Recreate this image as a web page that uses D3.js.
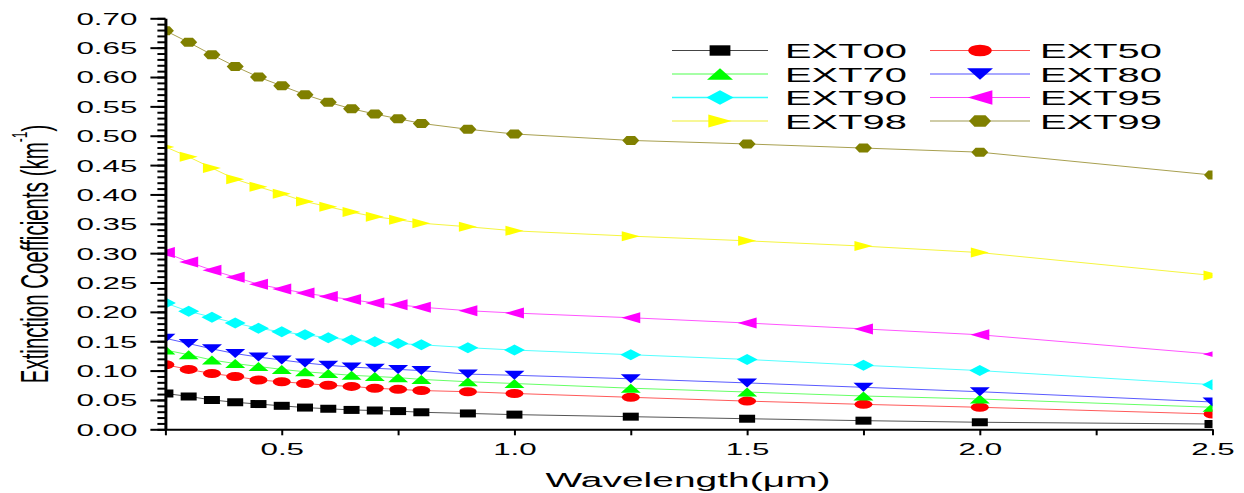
<!DOCTYPE html>
<html>
<head>
<meta charset="utf-8">
<script src="https://cdn.jsdelivr.net/npm/d3@7"></script>
<style>
  html, body { margin: 0; padding: 0; background: #fff; }
  svg { display: block; font-family: "Liberation Sans", Arial, sans-serif; }
</style>
</head>
<body>
<svg id="chart" width="1244" height="493"></svg>
<script>
// Wavelength grid (µm)
const wavelength = [0.25, 0.3, 0.35, 0.4, 0.45, 0.5, 0.55, 0.6, 0.65, 0.7, 0.75, 0.8, 0.9, 1.0, 1.25, 1.5, 1.75, 2.0, 2.5];

// Extinction coefficients (km^-1) per relative-humidity case
const ext00 = [0.061, 0.056, 0.050, 0.046, 0.043, 0.040, 0.037, 0.035, 0.033, 0.032, 0.031, 0.029, 0.027, 0.025, 0.0215, 0.018, 0.0147, 0.012, 0.009];
const ext50 = [0.110, 0.102, 0.095, 0.090, 0.084, 0.081, 0.078, 0.075, 0.073, 0.070, 0.068, 0.066, 0.064, 0.061, 0.0545, 0.048, 0.0425, 0.0375, 0.026];
const ext70 = [0.135, 0.127, 0.118, 0.112, 0.107, 0.102, 0.098, 0.095, 0.092, 0.090, 0.088, 0.085, 0.081, 0.078, 0.070, 0.0635, 0.0567, 0.0516, 0.0375];
const ext80 = [0.155, 0.146, 0.137, 0.129, 0.123, 0.118, 0.113, 0.109, 0.106, 0.104, 0.102, 0.100, 0.094, 0.092, 0.086, 0.079, 0.0715, 0.064, 0.0465];
const ext90 = [0.215, 0.201, 0.191, 0.181, 0.172, 0.166, 0.161, 0.156, 0.152, 0.149, 0.146, 0.144, 0.139, 0.135, 0.127, 0.119, 0.109, 0.100, 0.076];
const ext95 = [0.301, 0.285, 0.271, 0.259, 0.247, 0.239, 0.232, 0.226, 0.221, 0.215, 0.212, 0.208, 0.202, 0.198, 0.190, 0.181, 0.171, 0.161, 0.128];
const ext98 = [0.481, 0.464, 0.445, 0.426, 0.413, 0.401, 0.388, 0.379, 0.370, 0.362, 0.357, 0.351, 0.345, 0.338, 0.329, 0.321, 0.312, 0.301, 0.262];
const ext99 = [0.679, 0.659, 0.638, 0.618, 0.600, 0.585, 0.570, 0.557, 0.546, 0.537, 0.529, 0.521, 0.511, 0.503, 0.492, 0.486, 0.479, 0.472, 0.433];

const seriesNames = ["EXT00", "EXT50", "EXT70", "EXT80", "EXT90", "EXT95", "EXT98", "EXT99"];
const seriesValues = [ext00, ext50, ext70, ext80, ext90, ext95, ext98, ext99];

const yTicks = d3.range(0, 0.7001, 0.05);
const yMinorTicks = d3.range(0, 0.7001, 0.01);
const xTicks = d3.range(0.25, 2.5001, 0.25);

// Per-series styling
const styles = {
  EXT00: { shape: "square",   fill: "#000000", line: "#555555", legendLine: "#444444", lw: 1 },
  EXT50: { shape: "circle",   fill: "#ff0000", line: "#ff5a5a", legendLine: "#ff5050", lw: 1 },
  EXT70: { shape: "triUp",    fill: "#00ff00", line: "#66ff66", legendLine: "#a6ffa6", lw: 2 },
  EXT80: { shape: "triDown",  fill: "#0000ff", line: "#5a5aff", legendLine: "#a8a8ff", lw: 2 },
  EXT90: { shape: "diamond",  fill: "#00ffff", line: "#55ffff", legendLine: "#33ffff", lw: 1.5 },
  EXT95: { shape: "triLeft",  fill: "#ff00ff", line: "#ff55ff", legendLine: "#ff44ff", lw: 1.2 },
  EXT98: { shape: "triRight", fill: "#ffff00", line: "#f5f540", legendLine: "#f0f030", lw: 1.2 },
  EXT99: { shape: "hexagon",  fill: "#808000", line: "#a8a050", legendLine: "#a09a50", lw: 1.2 }
};

// Marker footprints (width, height) in pixels
const shapeSize = {
  square:   [16, 8],
  circle:   [18, 9],
  triUp:    [20, 9],
  triDown:  [20, 9],
  diamond:  [21, 11],
  triLeft:  [19, 11],
  triRight: [18, 10],
  hexagon:  [17, 9]
};

function markerPath(shape, k) {
  const [w0, h0] = shapeSize[shape];
  const w = w0 * k / 2, h = h0 * k / 2;
  const p = d3.path();
  const poly = pts => { p.moveTo(pts[0][0], pts[0][1]); pts.slice(1).forEach(q => p.lineTo(q[0], q[1])); p.closePath(); };
  switch (shape) {
    case "square":   poly([[-w, -h], [w, -h], [w, h], [-w, h]]); break;
    case "circle":   return `M${-w},0A${w},${h} 0 1,0 ${w},0A${w},${h} 0 1,0 ${-w},0Z`;
    case "triUp":    poly([[0, -h], [w, h], [-w, h]]); break;
    case "triDown":  poly([[-w, -h], [w, -h], [0, h]]); break;
    case "diamond":  poly([[0, -h], [w, 0], [0, h], [-w, 0]]); break;
    case "triLeft":  poly([[-w, 0], [w, -h], [w, h]]); break;
    case "triRight": poly([[-w, -h], [w, 0], [-w, h]]); break;
    case "hexagon":  poly([[-w, 0], [-w / 2, -h], [w / 2, -h], [w, 0], [w / 2, h], [-w / 2, h]]); break;
  }
  return p.toString();
}

const svg = d3.select("#chart");
const SX = 1.9; // horizontal stretch applied to all lettering

const x = d3.scaleLinear().domain([0.25, 2.5]).range([165.4, 1212.5]);
const y = d3.scaleLinear().domain([0, 0.7]).range([429.3, 18.3]);

// Plot clip
svg.append("defs").append("clipPath").attr("id", "plotClip")
  .append("rect").attr("x", 165.4).attr("y", 0).attr("width", 1212.5 - 165.4).attr("height", 430);

const plot = svg.append("g").attr("clip-path", "url(#plotClip)");

const lineGen = d3.line().x(d => x(d[0])).y(d => y(d[1]));

seriesNames.forEach((name, i) => {
  const st = styles[name];
  const pts = wavelength.map((w, j) => [w, seriesValues[i][j]]);
  const g = plot.append("g");
  g.append("path").datum(pts)
    .attr("d", lineGen)
    .attr("fill", "none")
    .attr("stroke", st.line)
    .attr("stroke-width", 1);
  g.selectAll("path.mk").data(pts).join("path")
    .attr("class", "mk")
    .attr("d", markerPath(st.shape, 1))
    .attr("transform", d => `translate(${x(d[0])},${y(d[1])})`)
    .attr("fill", st.fill);
});

// Y axis: minor ticks
svg.append("g")
  .attr("transform", "translate(165.4,0)")
  .call(d3.axisLeft(y).tickValues(yMinorTicks).tickSize(8).tickSizeOuter(0).tickFormat(""))
  .call(g => g.select(".domain").remove())
  .call(g => g.selectAll(".tick line").attr("stroke", "#000").attr("stroke-width", 2));

// Y axis: major ticks and labels
svg.append("g")
  .attr("transform", "translate(165.4,0)")
  .call(d3.axisLeft(y).tickValues(yTicks).tickSize(15).tickSizeOuter(0).tickFormat(d3.format(".2f")))
  .call(g => g.select(".domain").attr("stroke", "#000").attr("stroke-width", 3))
  .call(g => g.selectAll(".tick line").attr("stroke", "#000").attr("stroke-width", 2))
  .call(g => g.selectAll(".tick text")
    .attr("x", -28 / SX)
    .attr("dy", "0.36em")
    .attr("transform", `scale(${SX},1)`)
    .attr("font-size", 16.5)
    .attr("font-family", "'Liberation Sans', Arial, sans-serif")
    .attr("fill", "#000"));

// X axis
svg.append("g")
  .attr("transform", "translate(0,429.3)")
  .call(d3.axisBottom(x).tickValues(xTicks).tickSize(6).tickSizeOuter(0).tickPadding(8)
    .tickFormat(d => (Math.abs(d * 2 - Math.round(d * 2)) < 1e-9 ? d3.format(".1f")(d) : "")))
  .call(g => g.select(".domain").attr("stroke", "#000").attr("stroke-width", 2))
  .call(g => g.selectAll(".tick line").attr("stroke", "#000").attr("stroke-width", 2))
  .call(g => g.selectAll(".tick text")
    .attr("transform", `scale(${SX},1)`)
    .attr("font-size", 16.5)
    .attr("font-family", "'Liberation Sans', Arial, sans-serif")
    .attr("fill", "#000"));

// Axis titles
svg.append("text")
  .attr("transform", `translate(688,487) scale(${SX},1)`)
  .attr("text-anchor", "middle")
  .attr("font-size", 20.5)
  .text("Wavelength(\u03bcm)");

const yTitle = svg.append("text")
  .attr("transform", `translate(48,254) scale(${SX},1) rotate(-90)`)
  .attr("text-anchor", "middle")
  .attr("font-size", 20.5);
yTitle.append("tspan").text("Extinction Coefficients (km");
yTitle.append("tspan").attr("font-size", 12).attr("dy", "-0.9em").text("-1");
yTitle.append("tspan").attr("dy", "0.55em").text(")");

// Legend
const legend = svg.append("g");
const colLine = [[672, 768], [930, 1030]];
const colText = [785, 1040];
const rowY = [50.5, 74, 97.5, 121];
seriesNames.forEach((name, i) => {
  const st = styles[name];
  const c = i % 2, r = Math.floor(i / 2);
  const cy = rowY[r];
  legend.append("line")
    .attr("x1", colLine[c][0]).attr("x2", colLine[c][1])
    .attr("y1", cy).attr("y2", cy)
    .attr("stroke", st.legendLine).attr("stroke-width", st.lw);
  legend.append("path")
    .attr("d", markerPath(st.shape, 1.3))
    .attr("transform", `translate(${(colLine[c][0] + colLine[c][1]) / 2},${cy})`)
    .attr("fill", st.fill);
  legend.append("text")
    .attr("transform", `translate(${colText[c]},${cy}) scale(${SX},1)`)
    .attr("dy", "0.36em")
    .attr("font-size", 21)
    .text(name);
});
</script>
</body>
</html>
